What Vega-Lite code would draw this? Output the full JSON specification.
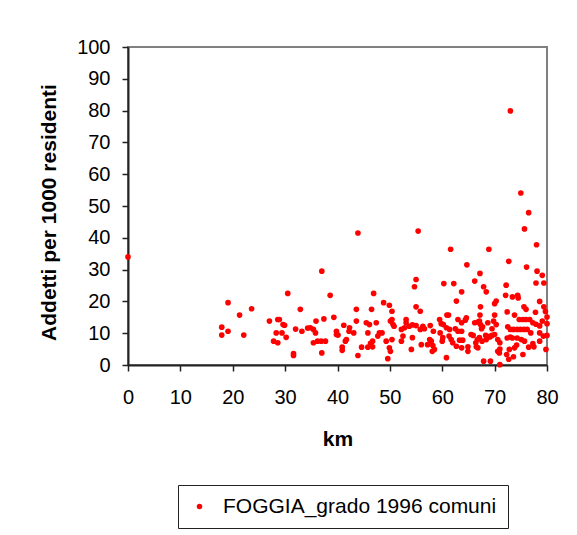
{
  "$schema": "https://vega.github.io/schema/vega-lite/v6.json",
  "width": 419,
  "height": 318,
  "autosize": {"type": "none"},
  "padding": {"left": 128, "top": 47, "right": 30, "bottom": 170},
  "background": "white",
  "config": {
    "font": "Liberation Sans",
    "view": {"stroke": "#808080", "strokeWidth": 2},
    "axis": {
      "labelFont": "Liberation Sans",
      "titleFont": "Liberation Sans",
      "labelFontSize": 20,
      "titleFontSize": 21,
      "titleFontWeight": "bold",
      "labelColor": "black",
      "titleColor": "black",
      "domainColor": "#222",
      "domainWidth": 2,
      "tickColor": "#222",
      "tickWidth": 1.5,
      "tickSize": 6,
      "grid": false,
      "labelFlush": false,
      "labelOverlap": false
    },
    "legend": {"labelFont": "Liberation Sans"}
  },
  "data": {
    "values": [
      {"km": 0, "addetti": 34.0},
      {"km": 17.9, "addetti": 11.9},
      {"km": 17.9, "addetti": 9.4},
      {"km": 19.1, "addetti": 19.6},
      {"km": 19.1, "addetti": 10.6},
      {"km": 21.3, "addetti": 15.7},
      {"km": 22.1, "addetti": 9.4},
      {"km": 23.6, "addetti": 17.7},
      {"km": 27.0, "addetti": 13.8},
      {"km": 27.8, "addetti": 7.5},
      {"km": 28.3, "addetti": 10.1},
      {"km": 28.6, "addetti": 14.3},
      {"km": 28.6, "addetti": 7.0},
      {"km": 28.9, "addetti": 14.3},
      {"km": 29.4, "addetti": 10.1},
      {"km": 29.6, "addetti": 12.7},
      {"km": 29.9, "addetti": 12.5},
      {"km": 30.2, "addetti": 8.7},
      {"km": 30.5, "addetti": 22.5},
      {"km": 31.6, "addetti": 3.6},
      {"km": 31.6, "addetti": 3.0},
      {"km": 32.0, "addetti": 11.3},
      {"km": 32.9, "addetti": 17.5},
      {"km": 33.2, "addetti": 10.6},
      {"km": 34.3, "addetti": 11.6},
      {"km": 34.8, "addetti": 11.7},
      {"km": 35.4, "addetti": 11.2},
      {"km": 35.4, "addetti": 7.0},
      {"km": 35.8, "addetti": 10.1},
      {"km": 35.9, "addetti": 13.8},
      {"km": 36.2, "addetti": 7.5},
      {"km": 36.9, "addetti": 7.5},
      {"km": 37.0, "addetti": 29.5},
      {"km": 37.0, "addetti": 3.8},
      {"km": 37.4, "addetti": 14.5},
      {"km": 37.7, "addetti": 7.5},
      {"km": 38.6, "addetti": 21.9},
      {"km": 39.3, "addetti": 15.0},
      {"km": 39.8, "addetti": 10.6},
      {"km": 39.8, "addetti": 9.6},
      {"km": 40.1, "addetti": 9.4},
      {"km": 40.9, "addetti": 5.6},
      {"km": 40.9, "addetti": 4.6},
      {"km": 41.2, "addetti": 12.5},
      {"km": 41.5, "addetti": 7.5},
      {"km": 41.7, "addetti": 8.0},
      {"km": 42.2, "addetti": 10.6},
      {"km": 42.3, "addetti": 11.7},
      {"km": 43.1, "addetti": 10.1},
      {"km": 43.6, "addetti": 17.5},
      {"km": 43.6, "addetti": 13.8},
      {"km": 43.9, "addetti": 41.5},
      {"km": 43.9, "addetti": 3.0},
      {"km": 44.6, "addetti": 5.6},
      {"km": 45.5, "addetti": 13.3},
      {"km": 45.8, "addetti": 10.1},
      {"km": 45.8, "addetti": 5.6},
      {"km": 46.1, "addetti": 12.7},
      {"km": 46.3, "addetti": 6.8},
      {"km": 46.5, "addetti": 17.5},
      {"km": 46.7, "addetti": 7.5},
      {"km": 46.7, "addetti": 5.7},
      {"km": 46.9, "addetti": 22.5},
      {"km": 47.4, "addetti": 13.3},
      {"km": 47.7, "addetti": 9.1},
      {"km": 48.0, "addetti": 10.1},
      {"km": 48.5, "addetti": 10.1},
      {"km": 48.8, "addetti": 19.6},
      {"km": 49.3, "addetti": 7.5},
      {"km": 49.6, "addetti": 2.0},
      {"km": 49.9, "addetti": 18.8},
      {"km": 49.9, "addetti": 5.4},
      {"km": 50.1, "addetti": 4.3},
      {"km": 50.1, "addetti": 13.8},
      {"km": 50.4, "addetti": 14.3},
      {"km": 50.4, "addetti": 16.9},
      {"km": 50.4, "addetti": 8.0},
      {"km": 50.6, "addetti": 12.7},
      {"km": 50.8, "addetti": 12.2},
      {"km": 52.2, "addetti": 11.2},
      {"km": 52.2, "addetti": 7.5},
      {"km": 52.5, "addetti": 9.1},
      {"km": 52.8, "addetti": 11.7},
      {"km": 53.1, "addetti": 14.3},
      {"km": 53.1, "addetti": 13.3},
      {"km": 53.7, "addetti": 12.2},
      {"km": 54.1, "addetti": 4.9},
      {"km": 54.3, "addetti": 12.6},
      {"km": 54.3, "addetti": 8.6},
      {"km": 54.7, "addetti": 24.6},
      {"km": 55.0, "addetti": 26.9},
      {"km": 55.0, "addetti": 18.3},
      {"km": 55.0, "addetti": 12.4},
      {"km": 55.4, "addetti": 42.1},
      {"km": 55.8, "addetti": 16.9},
      {"km": 55.8, "addetti": 11.2},
      {"km": 56.0, "addetti": 6.4},
      {"km": 56.3, "addetti": 12.2},
      {"km": 56.6, "addetti": 11.4},
      {"km": 57.2, "addetti": 6.4},
      {"km": 57.6, "addetti": 8.0},
      {"km": 57.7, "addetti": 12.4},
      {"km": 57.9, "addetti": 7.5},
      {"km": 58.1, "addetti": 4.3},
      {"km": 58.2, "addetti": 6.1},
      {"km": 58.3, "addetti": 10.6},
      {"km": 58.5, "addetti": 4.9},
      {"km": 59.5, "addetti": 14.3},
      {"km": 59.6, "addetti": 10.1},
      {"km": 59.8, "addetti": 13.0},
      {"km": 60.0, "addetti": 7.5},
      {"km": 60.1, "addetti": 8.6},
      {"km": 60.2, "addetti": 12.7},
      {"km": 60.3, "addetti": 25.6},
      {"km": 60.8, "addetti": 11.7},
      {"km": 60.8, "addetti": 2.3},
      {"km": 60.9, "addetti": 15.7},
      {"km": 61.2, "addetti": 15.7},
      {"km": 61.3, "addetti": 9.1},
      {"km": 61.4, "addetti": 11.2},
      {"km": 61.6, "addetti": 36.4},
      {"km": 61.7, "addetti": 8.0},
      {"km": 62.0, "addetti": 7.0},
      {"km": 62.2, "addetti": 25.6},
      {"km": 62.5, "addetti": 11.4},
      {"km": 62.7, "addetti": 20.1},
      {"km": 62.7, "addetti": 5.9},
      {"km": 63.0, "addetti": 14.3},
      {"km": 63.0, "addetti": 10.6},
      {"km": 63.3, "addetti": 7.8},
      {"km": 63.7, "addetti": 23.0},
      {"km": 63.7, "addetti": 13.3},
      {"km": 63.7, "addetti": 10.6},
      {"km": 63.7, "addetti": 5.4},
      {"km": 63.9, "addetti": 7.8},
      {"km": 64.4, "addetti": 14.1},
      {"km": 64.6, "addetti": 14.8},
      {"km": 64.7, "addetti": 31.5},
      {"km": 64.9, "addetti": 5.7},
      {"km": 64.9, "addetti": 4.3},
      {"km": 65.5, "addetti": 9.6},
      {"km": 65.9, "addetti": 9.3},
      {"km": 66.2, "addetti": 26.4},
      {"km": 66.2, "addetti": 13.3},
      {"km": 66.4, "addetti": 7.0},
      {"km": 66.5, "addetti": 5.7},
      {"km": 66.7, "addetti": 8.0},
      {"km": 66.8, "addetti": 13.5},
      {"km": 66.8, "addetti": 5.4},
      {"km": 67.1, "addetti": 8.6},
      {"km": 67.1, "addetti": 13.8},
      {"km": 67.2, "addetti": 28.8},
      {"km": 67.2, "addetti": 15.7},
      {"km": 67.3, "addetti": 18.3},
      {"km": 67.3, "addetti": 12.7},
      {"km": 67.5, "addetti": 11.4},
      {"km": 67.6, "addetti": 7.5},
      {"km": 67.7, "addetti": 12.0},
      {"km": 67.9, "addetti": 24.6},
      {"km": 67.9, "addetti": 1.2},
      {"km": 68.3, "addetti": 9.3},
      {"km": 68.4, "addetti": 23.0},
      {"km": 68.4, "addetti": 8.0},
      {"km": 68.7, "addetti": 13.3},
      {"km": 68.9, "addetti": 36.4},
      {"km": 69.1, "addetti": 8.8},
      {"km": 69.2, "addetti": 1.2},
      {"km": 69.2, "addetti": 9.1},
      {"km": 69.5, "addetti": 11.4},
      {"km": 69.5, "addetti": 9.3},
      {"km": 69.8, "addetti": 13.8},
      {"km": 70.0, "addetti": 19.3},
      {"km": 70.0, "addetti": 15.7},
      {"km": 70.0, "addetti": 9.6},
      {"km": 70.3, "addetti": 20.1},
      {"km": 70.3, "addetti": 12.7},
      {"km": 70.6, "addetti": 8.0},
      {"km": 70.6, "addetti": 4.3},
      {"km": 70.9, "addetti": 3.8},
      {"km": 71.0, "addetti": 0.1},
      {"km": 71.0, "addetti": 5.0},
      {"km": 71.0, "addetti": 7.0},
      {"km": 72.1, "addetti": 21.9},
      {"km": 72.2, "addetti": 25.1},
      {"km": 72.3, "addetti": 3.3},
      {"km": 72.4, "addetti": 16.7},
      {"km": 72.4, "addetti": 8.5},
      {"km": 72.5, "addetti": 12.0},
      {"km": 72.7, "addetti": 32.6},
      {"km": 72.7, "addetti": 1.8},
      {"km": 72.8, "addetti": 4.9},
      {"km": 73.0, "addetti": 79.9},
      {"km": 73.0, "addetti": 11.2},
      {"km": 73.0, "addetti": 8.8},
      {"km": 73.4, "addetti": 21.4},
      {"km": 73.4, "addetti": 8.5},
      {"km": 73.6, "addetti": 11.2},
      {"km": 73.6, "addetti": 2.6},
      {"km": 73.8, "addetti": 15.7},
      {"km": 73.8, "addetti": 5.4},
      {"km": 74.2, "addetti": 6.3},
      {"km": 74.3, "addetti": 11.2},
      {"km": 74.3, "addetti": 8.5},
      {"km": 74.4, "addetti": 21.9},
      {"km": 74.5, "addetti": 21.1},
      {"km": 74.7, "addetti": 14.3},
      {"km": 74.9, "addetti": 11.2},
      {"km": 75.0, "addetti": 54.1},
      {"km": 75.1, "addetti": 8.0},
      {"km": 75.4, "addetti": 14.3},
      {"km": 75.4, "addetti": 3.3},
      {"km": 75.6, "addetti": 18.3},
      {"km": 75.6, "addetti": 11.2},
      {"km": 75.7, "addetti": 42.8},
      {"km": 75.7, "addetti": 7.5},
      {"km": 76.0, "addetti": 17.5},
      {"km": 76.0, "addetti": 14.3},
      {"km": 76.1, "addetti": 30.8},
      {"km": 76.2, "addetti": 11.2},
      {"km": 76.5, "addetti": 47.9},
      {"km": 76.5, "addetti": 5.6},
      {"km": 76.7, "addetti": 14.3},
      {"km": 76.9, "addetti": 10.1},
      {"km": 77.3, "addetti": 13.3},
      {"km": 77.3, "addetti": 6.7},
      {"km": 77.5, "addetti": 5.7},
      {"km": 77.8, "addetti": 16.6},
      {"km": 77.9, "addetti": 12.8},
      {"km": 77.9, "addetti": 25.8},
      {"km": 78.0, "addetti": 37.8},
      {"km": 78.1, "addetti": 29.5},
      {"km": 78.6, "addetti": 20.0},
      {"km": 78.6, "addetti": 12.3},
      {"km": 78.6, "addetti": 10.1},
      {"km": 78.6, "addetti": 7.5},
      {"km": 79.1, "addetti": 28.2},
      {"km": 79.1, "addetti": 13.8},
      {"km": 79.3, "addetti": 9.1},
      {"km": 79.4, "addetti": 25.8},
      {"km": 79.4, "addetti": 18.3},
      {"km": 79.7, "addetti": 16.8},
      {"km": 79.8, "addetti": 4.9},
      {"km": 80.0, "addetti": 15.1},
      {"km": 80.0, "addetti": 9.3},
      {"km": 80.0, "addetti": 13.0}
    ]
  },
  "mark": {"type": "circle", "size": 32, "opacity": 1},
  "encoding": {
    "x": {
      "field": "km",
      "type": "quantitative",
      "title": "km",
      "scale": {"domain": [0, 80], "nice": false, "zero": true},
      "axis": {
        "values": [0, 10, 20, 30, 40, 50, 60, 70, 80],
        "labelPadding": 16,
        "titleBaseline": "alphabetic",
        "titleY": 80
      }
    },
    "y": {
      "field": "addetti",
      "type": "quantitative",
      "title": "Addetti per 1000 residenti",
      "scale": {"domain": [0, 100], "nice": false},
      "axis": {
        "values": [0, 10, 20, 30, 40, 50, 60, 70, 80, 90, 100],
        "labelPadding": 12,
        "titleBaseline": "alphabetic",
        "titleX": -73,
        "titleY": 165,
        "titleAngle": -90
      }
    },
    "color": {
      "datum": "FOGGIA_grado 1996 comuni",
      "scale": {"range": ["#ff0000"]},
      "legend": {
        "title": null,
        "orient": "none",
        "legendX": 50,
        "legendY": 438,
        "strokeColor": "#222",
        "fillColor": "white",
        "padding": 11,
        "labelFontSize": 21,
        "labelLimit": 0,
        "labelColor": "black",
        "labelOffset": 13,
        "symbolType": "circle",
        "symbolSize": 30,
        "symbolFillColor": "#ff0000",
        "symbolStrokeWidth": 0
      }
    }
  }
}
